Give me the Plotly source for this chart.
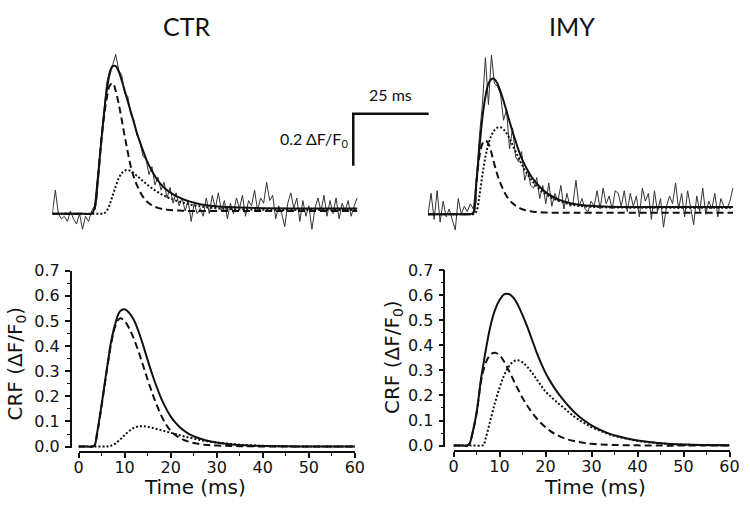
import plotly.graph_objects as go

W, H = 750, 509

# ---------------- data: bottom panels (CRF vs time, ms) ----------------
t_bot = [0, 1, 2, 3, 3.5, 4, 5, 6, 6.5, 7, 8, 9, 10, 11, 12, 13, 14, 15, 16, 17, 18, 19, 20,
         21, 22, 23, 24, 25, 26, 27, 28, 29, 30, 32, 34, 36, 38, 40, 45, 50, 55, 60]

ctr_total = [0, 0, 0, 0, 0.005, 0.05, 0.165, 0.29, 0.35, 0.41, 0.49, 0.538, 0.546, 0.532, 0.505, 0.46,
             0.405, 0.345, 0.288, 0.236, 0.19, 0.152, 0.12, 0.096, 0.077, 0.062, 0.05, 0.041, 0.034,
             0.028, 0.023, 0.019, 0.016, 0.011, 0.0075, 0.005, 0.0035, 0.0025, 0.001, 0.0005, 0, 0]
ctr_fast = [0, 0, 0, 0, 0.005, 0.045, 0.16, 0.285, 0.345, 0.4, 0.48, 0.51, 0.5, 0.47, 0.43, 0.38,
            0.324, 0.267, 0.213, 0.165, 0.122, 0.088, 0.063, 0.046, 0.034, 0.025, 0.019, 0.014, 0.011,
            0.008, 0.006, 0.005, 0.004, 0.003, 0.002, 0.001, 0.001, 0.0005, 0, 0, 0, 0]
ctr_slow = [0, 0, 0, 0, 0, 0, 0, 0, 0.001, 0.003, 0.012, 0.028, 0.045, 0.062, 0.074, 0.08,
            0.081, 0.079, 0.075, 0.07, 0.065, 0.06, 0.055, 0.05, 0.045, 0.04, 0.036, 0.032, 0.028,
            0.024, 0.021, 0.018, 0.016, 0.012, 0.009, 0.006, 0.0045, 0.003, 0.001, 0.0005, 0, 0]

imy_total = [0, 0, 0, 0, 0.008, 0.04, 0.13, 0.27, 0.325, 0.38, 0.475, 0.54, 0.58, 0.603, 0.604, 0.59,
             0.56, 0.52, 0.475, 0.425, 0.375, 0.33, 0.29, 0.257, 0.228, 0.202, 0.179, 0.158, 0.138,
             0.121, 0.106, 0.093, 0.081, 0.062, 0.047, 0.036, 0.027, 0.02, 0.009, 0.004, 0.002, 0.001]
imy_fast = [0, 0, 0, 0, 0.008, 0.04, 0.13, 0.26, 0.3, 0.33, 0.362, 0.37, 0.36, 0.335, 0.3, 0.262,
            0.225, 0.19, 0.16, 0.133, 0.11, 0.09, 0.073, 0.059, 0.047, 0.038, 0.03, 0.024, 0.019,
            0.015, 0.012, 0.009, 0.007, 0.004, 0.003, 0.002, 0.001, 0.001, 0, 0, 0, 0]
imy_slow = [0, 0, 0, 0, 0, 0, 0, 0, 0.002, 0.03, 0.1, 0.17, 0.23, 0.28, 0.315, 0.335,
            0.34, 0.332, 0.315, 0.292, 0.266, 0.24, 0.215, 0.198, 0.181, 0.165, 0.15, 0.134, 0.119,
            0.106, 0.094, 0.084, 0.074, 0.058, 0.044, 0.034, 0.026, 0.019, 0.009, 0.004, 0.002, 0.001]

# ---------------- data: top panels (dF/F0 vs time, ms) ----------------
t_fit = [0, 10, 13, 14, 15, 16, 17, 18, 19, 20, 21, 22, 23, 24, 25, 26, 27, 28, 29, 30, 31, 32, 33,
         34, 35, 36, 37, 38, 40, 42, 44, 46, 48, 50, 55, 60, 70, 80, 90, 101]

ctr_fit_total = [0, 0, 0, 0.02, 0.12, 0.25, 0.37, 0.47, 0.535, 0.565, 0.565, 0.545, 0.51, 0.47, 0.43,
                 0.39, 0.35, 0.31, 0.275, 0.242, 0.212, 0.186, 0.163, 0.143, 0.126, 0.112, 0.1, 0.09,
                 0.074, 0.062, 0.052, 0.045, 0.039, 0.034, 0.027, 0.024, 0.021, 0.02, 0.02, 0.02]
ctr_fit_fast = [0, 0, 0, 0.02, 0.12, 0.25, 0.36, 0.44, 0.49, 0.5, 0.47, 0.42, 0.36, 0.295, 0.235,
                0.18, 0.14, 0.11, 0.085, 0.065, 0.05, 0.04, 0.032, 0.026, 0.022, 0.019, 0.017, 0.015,
                0.013, 0.012, 0.011, 0.01, 0.01, 0.01, 0.01, 0.01, 0.01, 0.01, 0.01, 0.01]
ctr_fit_slow = [0, 0, 0, 0, 0, 0, 0, 0.01, 0.035, 0.07, 0.105, 0.135, 0.155, 0.165, 0.167,
                0.163, 0.155, 0.145, 0.135, 0.125, 0.115, 0.106, 0.097, 0.089, 0.082, 0.075, 0.069, 0.063,
                0.054, 0.046, 0.04, 0.034, 0.03, 0.026, 0.02, 0.017, 0.015, 0.014, 0.014, 0.014]

imy_fit_total = [0, 0, 0, 0, 0.005, 0.12, 0.25, 0.37, 0.45, 0.5, 0.518, 0.518, 0.5, 0.47, 0.435,
                 0.395, 0.355, 0.316, 0.28, 0.245, 0.215, 0.19, 0.168, 0.148, 0.132, 0.118, 0.105, 0.094,
                 0.076, 0.063, 0.053, 0.046, 0.04, 0.036, 0.031, 0.029, 0.028, 0.028, 0.028, 0.028]
imy_fit_fast = [0, 0, 0, 0, 0.005, 0.12, 0.22, 0.27, 0.283, 0.27, 0.235, 0.19, 0.15, 0.118, 0.092,
                0.07, 0.054, 0.042, 0.033, 0.026, 0.02, 0.016, 0.013, 0.011, 0.009, 0.008, 0.007, 0.007,
                0.006, 0.006, 0.006, 0.006, 0.006, 0.006, 0.006, 0.006, 0.006, 0.006, 0.006, 0.006]
imy_fit_slow = [0, 0, 0, 0, 0, 0.01, 0.07, 0.15, 0.22, 0.27, 0.302, 0.322, 0.332, 0.333, 0.325,
                0.31, 0.29, 0.265, 0.24, 0.215, 0.192, 0.17, 0.152, 0.135, 0.12, 0.107, 0.095, 0.085,
                0.069, 0.057, 0.048, 0.041, 0.036, 0.032, 0.028, 0.026, 0.025, 0.025, 0.025, 0.025]

t_raw = list(range(102))
ctr_raw = [0.00, 0.09, 0.00, -0.02, -0.01, -0.03, 0.01, -0.02, -0.04, 0.00, -0.06, -0.01, -0.03, 0.01,
           0.03, 0.14, 0.27, 0.38, 0.50, 0.55, 0.57, 0.61, 0.55, 0.53, 0.46, 0.45, 0.38, 0.36, 0.30,
           0.28, 0.22, 0.21, 0.15, 0.18, 0.11, 0.14, 0.09, 0.12, 0.06, 0.10, 0.04, 0.08, 0.03, 0.06,
           0.01, 0.05, -0.03, 0.04, 0.00, 0.02, -0.01, 0.06, 0.00, 0.07, 0.02, 0.08, 0.01, 0.05, -0.02,
           0.04, 0.00, 0.06, 0.02, 0.07, -0.01, 0.05, 0.03, 0.09, 0.01, 0.06, 0.04, 0.12, 0.05, 0.07,
           -0.02, 0.03, 0.00, -0.05, 0.04, 0.08, 0.02, 0.06, -0.03, 0.05, -0.01, 0.03, -0.06, 0.02,
           0.06, 0.01, 0.07, -0.01, 0.05, 0.00, 0.06, -0.02, 0.04, 0.01, 0.05, -0.01, 0.03, 0.06]
imy_raw = [0.00, 0.08, -0.02, 0.09, -0.03, 0.05, -0.01, 0.02, -0.02, -0.06, 0.06, 0.00, 0.03, 0.01,
           0.04, 0.02, 0.13, 0.30, 0.42, 0.60, 0.42, 0.61, 0.50, 0.49, 0.46, 0.36, 0.40, 0.25, 0.33,
           0.22, 0.20, 0.24, 0.13, 0.17, 0.11, 0.10, 0.14, 0.06, 0.11, 0.04, 0.12, 0.03, 0.08, 0.05,
           0.11, 0.02, 0.08, 0.03, 0.04, 0.13, 0.03, 0.06, 0.02, 0.01, 0.05, 0.03, 0.09, 0.02, 0.10,
           0.04, 0.07, 0.02, 0.09, 0.08, 0.03, 0.09, 0.01, 0.08, 0.03, 0.07, -0.01, 0.10, 0.05, 0.08,
           -0.02, 0.09, 0.01, 0.06, -0.05, 0.03, 0.07, 0.04, 0.12, 0.02, 0.08, -0.01, 0.09, 0.03,
           -0.04, 0.07, 0.01, 0.10, 0.00, 0.05, 0.02, 0.08, -0.01, 0.06, 0.03, 0.02, 0.05, 0.10]

# scale bar (25 ms, 0.2 dF/F0) anchored at the end of the CTR trace
scale_origin = [99.7, 0.383]
scale_len = [25, 0.2]

x_ticks = [0, 10, 20, 30, 40, 50, 60]
y_ticks = [0.0, 0.1, 0.2, 0.3, 0.4, 0.5, 0.6, 0.7]
y_tick_text = ["0.0", "0.1", "0.2", "0.3", "0.4", "0.5", "0.6", "0.7"]

# ---------------- figure ----------------
fig = go.Figure()
BLACK = "#111111"
DASH = "7px,4px"
DOT = "2px,2px"


def px_x(p):
    return p / W


def px_y(p):
    return 1 - p / H


def add(x, y, xa, ya, width=2, dash=None, color=BLACK, shape="spline"):
    line = dict(color=color, width=width, shape=shape)
    if dash:
        line["dash"] = dash
    fig.add_trace(go.Scatter(x=x, y=y, mode="lines", line=line, xaxis=xa, yaxis=ya,
                             hoverinfo="skip", showlegend=False))


# top-left (CTR traces)
add(t_raw, ctr_raw, "x3", "y3", width=1, color="#333333", shape="linear")
add(t_fit, ctr_fit_slow, "x3", "y3", width=2, dash=DOT)
add(t_fit, ctr_fit_fast, "x3", "y3", width=2, dash=DASH)
add(t_fit, ctr_fit_total, "x3", "y3", width=2)
sx = [scale_origin[0] + scale_len[0], scale_origin[0], scale_origin[0]]
sy = [scale_origin[1], scale_origin[1], scale_origin[1] - scale_len[1]]
add(sx, sy, "x3", "y3", width=2.5, shape="linear")

# top-right (IMY traces)
add(t_raw, imy_raw, "x4", "y4", width=1, color="#333333", shape="linear")
add(t_fit, imy_fit_slow, "x4", "y4", width=2, dash=DOT)
add(t_fit, imy_fit_fast, "x4", "y4", width=2, dash=DASH)
add(t_fit, imy_fit_total, "x4", "y4", width=2)

# bottom-left (CTR CRF)
add(t_bot, ctr_slow, "x", "y", width=2, dash=DOT)
add(t_bot, ctr_fast, "x", "y", width=2, dash=DASH)
add(t_bot, ctr_total, "x", "y", width=2)

# bottom-right (IMY CRF)
add(t_bot, imy_slow, "x2", "y2", width=2, dash=DOT)
add(t_bot, imy_fast, "x2", "y2", width=2, dash=DASH)
add(t_bot, imy_total, "x2", "y2", width=2)

TICKFONT = dict(family="DejaVu Sans, sans-serif", size=16, color=BLACK)


def xaxis_cfg(d0, d1, pos):
    return dict(domain=[px_x(d0), px_x(d1)], range=[0, 60], anchor="free", position=px_y(pos),
                showline=True, linecolor=BLACK, linewidth=1.5, ticks="outside", ticklen=5,
                tickwidth=1.5, tickcolor=BLACK, tickvals=x_ticks, showgrid=False, zeroline=False,
                tickfont=TICKFONT, ticklabelstandoff=-4,
                minor=dict(ticks="outside", dtick=5, ticklen=3, tickwidth=1.2,
                           tickcolor=BLACK, showgrid=False))


def yaxis_cfg(top, zero, pos):
    ppu = (zero - top) / 0.7
    lo = -0.007
    bottom = zero - lo * ppu
    return dict(domain=[px_y(bottom), px_y(top)], range=[lo, 0.7], anchor="free", position=px_x(pos),
                showline=True, linecolor=BLACK, linewidth=1.5, ticks="outside", ticklen=5,
                tickwidth=1.5, tickcolor=BLACK, tickvals=y_ticks, ticktext=y_tick_text,
                showgrid=False, zeroline=False, tickfont=TICKFONT, ticklabelstandoff=2,
                minor=dict(ticks="outside", dtick=0.05, ticklen=3, tickwidth=1.2, tickcolor=BLACK,
                           showgrid=False))


def hidden(d, r):
    return dict(domain=d, range=r, visible=False, showgrid=False, zeroline=False)


# top axes geometry: 3.08 px per ms, 270 px per dF/F0 unit
ms_px = 3.08
unit_px = 270.0
fig.update_layout(
    width=W, height=H, margin=dict(l=0, r=0, t=0, b=0),
    paper_bgcolor="white", plot_bgcolor="rgba(0,0,0,0)",
    xaxis=xaxis_cfg(75, 357, 458.3),
    yaxis=yaxis_cfg(270.7, 452.7, 67),
    xaxis2=xaxis_cfg(457.7, 739.3, 457.3),
    yaxis2=yaxis_cfg(270.0, 451.7, 448.3),
    xaxis3=hidden([px_x(48.3), px_x(445)], [0, (445 - 48.3) / ms_px]),
    yaxis3=hidden([px_y(240), px_y(30)], [(211.7 - 240) / unit_px, (211.7 - 30) / unit_px]),
    xaxis4=hidden([px_x(431.7), px_x(750)], [0, (750 - 431.7) / ms_px]),
    yaxis4=hidden([px_y(240), px_y(30)], [(212.3 - 240) / unit_px, (212.3 - 30) / unit_px]),
)
fig.update_layout(xaxis3_anchor="y3", yaxis3_anchor="x3", xaxis4_anchor="y4", yaxis4_anchor="x4")

TITLEFONT = dict(family="Lato, Open Sans, sans-serif", size=25, color=BLACK)
LABELFONT = dict(family="DejaVu Sans, sans-serif", size=20, color=BLACK)
BARFONT = dict(family="Lato, Open Sans, sans-serif", size=16, color=BLACK)

ann = [
    dict(text="CTR", x=px_x(185), y=1.0, yanchor="top", font=TITLEFONT),
    dict(text="IMY", x=px_x(579), y=1.0, yanchor="top", font=TITLEFONT),
    dict(text="25 ms", x=px_x(393), y=px_y(88), font=BARFONT),
    dict(text="0.2 ΔF/F<sub>0</sub>", x=px_x(352), y=px_y(135), xanchor="right", font=BARFONT),
    dict(text="Time (ms)", x=px_x(194), y=px_y(494), font=LABELFONT),
    dict(text="Time (ms)", x=px_x(602), y=px_y(494), font=LABELFONT),
    dict(text="CRF (ΔF/F<sub>0</sub>)", x=px_x(11), y=px_y(367), textangle=-90, font=LABELFONT),
    dict(text="CRF (ΔF/F<sub>0</sub>)", x=px_x(396), y=px_y(360), textangle=-90, font=LABELFONT),
]
for a in ann:
    a.update(xref="paper", yref="paper", showarrow=False)
    a.setdefault("xanchor", "center")
    a.setdefault("yanchor", "middle")
fig.update_layout(annotations=ann)

fig.write_html("out.html", config={"displayModeBar": False},
               post_script="document.body.style.margin='0';document.body.style.overflow='hidden';")
